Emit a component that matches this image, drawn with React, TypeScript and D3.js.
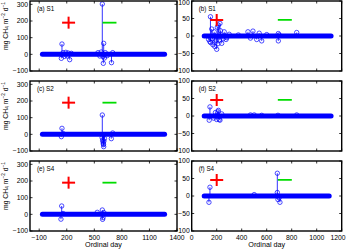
import * as d3 from "d3";

// axis ticks
const leftXTicks = [-100, 200, 500, 800, 1100, 1400];
const rightXTicks = [0, 200, 400, 600, 800, 1000, 1200];
const leftYTicks = [-100, 0, 100, 200, 300];
const rightYTicks = [-100, -50, 0, 50, 100];

const panelLabels = ["(a) S1", "(b) S1", "(c) S2", "(d) S2", "(e) S4", "(f) S4"];

// first / last sampled day of the continuous daily record (values ~0)
const sampledDays: [number, number][] = [
  [-65, 1265],
  [100, 1115],
  [-65, 1265],
  [100, 1115],
  [-65, 1265],
  [100, 1100],
];

// [day, flux] values that stand out from the zero band
const fluxA: [number, number][] = [
  [141, -24], [148, 62], [160, 10], [175, -12], [190, 12], [205, -10], [215, 8], [232, -32],
  [250, 6], [540, 10], [560, -10], [575, 14], [587, 302], [595, -14], [598, -54], [602, 66],
  [610, -22], [620, 10], [640, -8], [687, -50], [700, 10],
];
const fluxB: [number, number][] = [
  [135, -10], [145, -16], [150, 55], [152, -19], [160, 20], [165, -8], [170, -25], [180, 12],
  [185, -30], [195, -12], [200, -38], [205, 25], [210, -22], [213, 31], [220, -12], [226, 36],
  [230, 15], [240, -21], [250, -8], [260, 12], [275, -10], [280, -5], [300, 5], [373, 3],
  [450, 12], [470, -6], [490, 14], [520, -10], [540, 8], [560, -14], [600, 4], [693, 7],
  [693, -14], [700, 3], [840, 10],
];
const fluxC: [number, number][] = [
  [141, -14], [148, 36], [160, 5], [585, -20], [587, 116], [590, -35], [595, -45], [598, -55],
  [600, -62], [602, -74], [605, -40], [610, -25], [685, -26], [700, 8],
];
const fluxD: [number, number][] = [
  [140, -12], [146, 26], [175, -6], [190, 10], [200, -10], [210, 12], [213, 16], [220, -10],
  [226, -12], [240, 6], [470, 3], [500, 3], [560, 2], [690, 2], [840, 3],
];
const fluxE: [number, number][] = [
  [137, -29], [145, 50], [160, 5], [532, 12], [587, 26], [590, -30], [595, -20], [605, 10],
];
const fluxF: [number, number][] = [
  [138, -18], [146, 25], [500, 4], [685, 65], [685, 10], [690, -10], [700, -5], [706, -18],
];
const fluxes = [fluxA, fluxB, fluxC, fluxD, fluxE, fluxF];

// "+" and "-" annotations [day, flux]
const plusLeft: [number, number] = [220, 190];
const minusLeft: [number, number] = [665, 190];
const plusRight: [number, number] = [200, 46];
const minusRight: [number, number] = [745, 46];

const W = 346;
const COL = {
  left: { x0: 30, x1: 177 },
  right: { x0: 191.7, x1: 341.7 },
};
const ROW_TOPS = [1, 81, 161];
const ROW_H = 70;
const FONT = "'Liberation Sans', Arial, Helvetica, sans-serif";
const fmt = (v: number) => d3.format("d")(v);

type PanelProps = { index: number };

const Panel = ({ index }: PanelProps) => {
  const isLeft = index % 2 === 0;
  const row = Math.floor(index / 2);
  const col = isLeft ? COL.left : COL.right;
  const top = ROW_TOPS[row];
  const bottom = top + ROW_H;

  const xScale = d3
    .scaleLinear()
    .domain(isLeft ? [-200, 1400] : [0, 1200])
    .range([col.x0, col.x1]);
  const yScale = d3
    .scaleLinear()
    .domain(isLeft ? [-100, 320] : [-100, 100])
    .range([bottom, top]);

  const xTicks = isLeft ? leftXTicks : rightXTicks;
  const yTicks = isLeft ? leftYTicks : rightYTicks;
  const [d0, d1] = sampledDays[index];
  const pts = fluxes[index];
  const plus = isLeft ? plusLeft : plusRight;
  const minus = isLeft ? minusLeft : minusRight;
  const clipId = `clip${index}`;
  const tl = 2.5;
  const blue = "#0000ff";

  return (
    <g>
      <defs>
        <clipPath id={clipId}>
          <rect x={col.x0} y={top} width={col.x1 - col.x0} height={ROW_H} />
        </clipPath>
      </defs>
      <rect x={col.x0} y={top} width={col.x1 - col.x0} height={ROW_H} fill="white" />

      <g clipPath={`url(#${clipId})`}>
        {/* continuous daily band */}
        <line
          x1={xScale(d0)}
          x2={xScale(d1)}
          y1={yScale(0)}
          y2={yScale(0)}
          stroke={blue}
          strokeWidth={5}
          strokeLinecap="round"
        />
        {pts.map(([d, v], i) => (
          <g key={i}>
            <line
              x1={xScale(d)}
              x2={xScale(d)}
              y1={yScale(0)}
              y2={yScale(v)}
              stroke={blue}
              strokeWidth={0.8}
            />
            <circle cx={xScale(d)} cy={yScale(v)} r={2.2} fill="none" stroke={blue} strokeWidth={0.7} />
          </g>
        ))}

        {/* + / - annotations */}
        <line
          x1={xScale(plus[0]) - 6.5}
          x2={xScale(plus[0]) + 6.5}
          y1={yScale(plus[1])}
          y2={yScale(plus[1])}
          stroke="#ff0000"
          strokeWidth={2}
        />
        <line
          x1={xScale(plus[0])}
          x2={xScale(plus[0])}
          y1={yScale(plus[1]) - 6}
          y2={yScale(plus[1]) + 6}
          stroke="#ff0000"
          strokeWidth={2}
        />
        <line
          x1={xScale(minus[0]) - 7}
          x2={xScale(minus[0]) + 7}
          y1={yScale(minus[1])}
          y2={yScale(minus[1])}
          stroke="#00dd00"
          strokeWidth={1.8}
        />
      </g>

      {/* ticks on all four sides, pointing in */}
      {xTicks.map((t) => {
        const tx = xScale(t);
        const nearEdge = tx + 8 > W;
        return (
          <g key={`x${t}`}>
            <line x1={tx} x2={tx} y1={bottom} y2={bottom - tl} stroke="black" strokeWidth={0.8} />
            <line x1={tx} x2={tx} y1={top} y2={top + tl} stroke="black" strokeWidth={0.8} />
            {row === 2 && (
              <text
                x={nearEdge ? W - 0.5 : tx}
                y={bottom + 9}
                textAnchor={nearEdge ? "end" : "middle"}
                fontSize={6.8}
                fontFamily={FONT}
              >
                {fmt(t)}
              </text>
            )}
          </g>
        );
      })}
      {yTicks.map((t) => {
        const ty = yScale(t);
        return (
          <g key={`y${t}`}>
            <line x1={col.x0} x2={col.x0 + tl} y1={ty} y2={ty} stroke="black" strokeWidth={0.8} />
            <line x1={col.x1} x2={col.x1 - tl} y1={ty} y2={ty} stroke="black" strokeWidth={0.8} />
            <text
              x={col.x0 - 2}
              y={Math.max(ty, 2.6)}
              dy="0.35em"
              textAnchor="end"
              fontSize={6.8}
              fontFamily={FONT}
            >
              {fmt(t)}
            </text>
          </g>
        );
      })}

      <rect
        x={col.x0}
        y={top}
        width={col.x1 - col.x0}
        height={ROW_H}
        fill="none"
        stroke="black"
        strokeWidth={1.4}
      />

      <text x={col.x0 + 7} y={top + 9.5} fontSize={6.3} fontFamily={FONT}>
        {panelLabels[index]}
      </text>

      {row === 2 && (
        <text
          x={(col.x0 + col.x1) / 2}
          y={bottom + 16}
          textAnchor="middle"
          fontSize={7.2}
          fontFamily={FONT}
        >
          Ordinal day
        </text>
      )}
    </g>
  );
};

const YLabel = ({ y }: { y: number }) => (
  <text transform={`translate(7.5, ${y}) rotate(-90)`} fontSize={6.8} fontFamily={FONT}>
    mg CH
    <tspan fontSize={4.8} dy={1.5}>4</tspan>
    <tspan dy={-1.5}> m</tspan>
    <tspan fontSize={4.8} dy={-2.5}>−2</tspan>
    <tspan dy={2.5}> d</tspan>
    <tspan fontSize={4.8} dy={-2.5}>−1</tspan>
  </text>
);

export default function App() {
  return (
    <svg
      width={W}
      height={250}
      style={{ position: "absolute", left: 0, top: 0, background: "white" }}
    >
      {ROW_TOPS.map((t) => (
        <YLabel key={t} y={t + 49} />
      ))}
      {[0, 1, 2, 3, 4, 5].map((i) => (
        <Panel key={i} index={i} />
      ))}
    </svg>
  );
}
